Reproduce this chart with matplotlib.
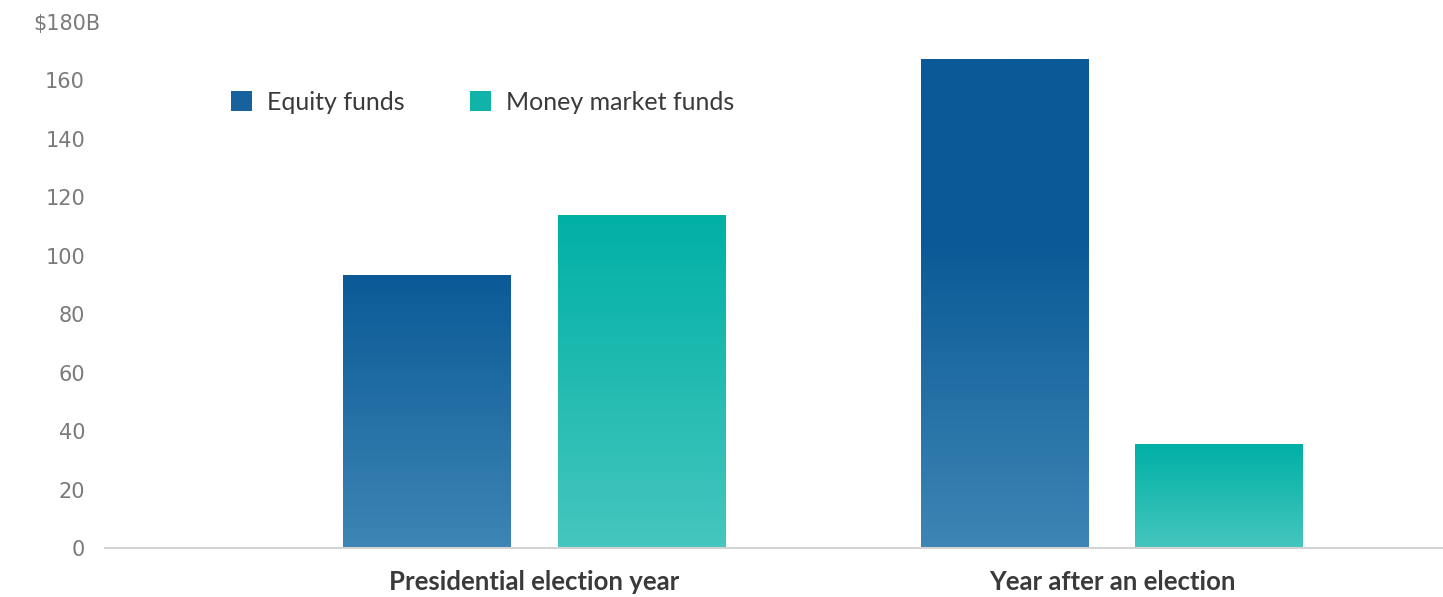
import numpy as np
import matplotlib.pyplot as plt
import matplotlib.transforms as mtransforms
from matplotlib.patches import Patch
from matplotlib.colors import LinearSegmentedColormap

categories = ["Presidential election year", "Year after an election"]
equity = [93.5, 167.5]
money_market = [114, 35.5]
series_names = ["Equity funds", "Money market funds"]
yticks = [0, 20, 40, 60, 80, 100, 120, 140, 160, 180]
ytick_labels = ["0", "20", "40", "60", "80", "100", "120", "140", "160", "$180B"]

plt.rcParams['font.family'] = ['Lato', 'DejaVu Sans']

fig = plt.figure(figsize=(14.43, 5.97), dpi=100)
ax = fig.add_axes([105 / 1443, 49 / 597, 1 - 105 / 1443, 526 / 597])

x = np.arange(len(categories))
w = 0.29
off = 0.1855

eq_top, eq_bot = "#0b5a97", "#3d85b4"
mm_top, mm_bot = "#00b0a5", "#45c6be"


def gradient_bars(xs, vals, top_c, bot_c):
    cmap = LinearSegmentedColormap.from_list("g", [bot_c, top_c])
    bars = ax.bar(xs, vals, w, color="none", edgecolor="none", zorder=2)
    for b in bars:
        x0, y0 = b.get_x(), b.get_y()
        h = b.get_height()
        grad = np.linspace(0, 1, 256).reshape(-1, 1)
        if h > 120:
            # tall bar stays dark over its upper part
            grad = np.clip(grad * 1.6, 0, 1)
        im = ax.imshow(grad, extent=[x0, x0 + b.get_width(), y0, y0 + h],
                       origin="lower", aspect="auto", cmap=cmap, zorder=2,
                       vmin=0, vmax=1)
        im.set_clip_path(b)
    return bars


gradient_bars(x - off, equity, eq_top, eq_bot)
gradient_bars(x + off, money_market, mm_top, mm_bot)

ax.set_xlim(-0.743, 1.573)
ax.set_ylim(0, 180)
ax.set_yticks(yticks)
ax.set_yticklabels(ytick_labels, fontsize=15, color="#7a7a7a",
                   family=["DejaVu Sans"])
ax.set_xticks(x)
ax.set_xticklabels(categories, fontsize=18.5, fontweight="bold", color="#3a3a3a")
ax.tick_params(axis="both", length=0)
ax.tick_params(axis="y", pad=14.4)
ax.tick_params(axis="x", pad=15.5)
# top label sits a little further right than the numbers
top_lab = ax.get_yticklabels()[-1]
top_lab.set_transform(top_lab.get_transform() +
                      mtransforms.ScaledTranslation(15 / 100, 0, fig.dpi_scale_trans))
for s in ["top", "right", "left"]:
    ax.spines[s].set_visible(False)
ax.spines["bottom"].set_color("#d3d3d3")
ax.spines["bottom"].set_linewidth(1.5)

handles = [Patch(facecolor="#17629c", edgecolor="none"),
           Patch(facecolor="#10b3a8", edgecolor="none")]
fig.legend(handles, series_names, loc="center left",
           bbox_to_anchor=(231 / 1443, 1 - 102 / 597), ncol=2, frameon=False,
           fontsize=18, handlelength=0.85, handleheight=0.85, handletextpad=0.6,
           columnspacing=2.6, borderpad=0, borderaxespad=0, labelcolor="#3a3a3a")

fig.savefig("out.png", dpi=100)
